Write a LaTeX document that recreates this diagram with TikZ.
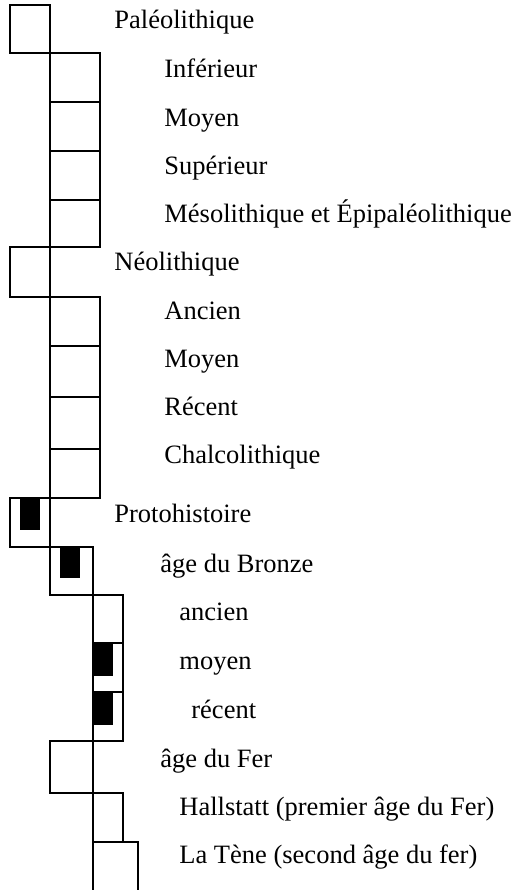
\documentclass[tikz,border=0pt]{standalone}
\usepackage{fontspec}
\setmainfont{Liberation Serif}
\begin{document}
\begin{tikzpicture}[x=1pt,y=-1pt,line width=2.8pt,
  per/.style={anchor=base west,inner sep=0pt,font=\fontsize{26.5}{30}\selectfont}]
\useasboundingbox (0,0) rectangle (516,890);
% Paleolithique
\draw (10,5) rectangle (50,53);
\foreach \a/\b in {53/102,102/151,151/200,200/247}
  \draw (50,\a) rectangle (100,\b);
% Neolithique
\draw (10,247) rectangle (50,297);
\foreach \a/\b in {297/346,346/397,397/449,449/498}
  \draw (50,\a) rectangle (100,\b);
% Protohistoire
\fill (20,498) rectangle (40,530);
\draw (10,498) rectangle (50,547);
\fill (60,547) rectangle (80,578);
\draw (50,547) rectangle (93,595);
\fill (93,643) rectangle (113,676);
\fill (93,692) rectangle (113,725);
\foreach \a/\b in {595/643,643/692,692/741}
  \draw (93,\a) rectangle (123,\b);
\draw (50,741) rectangle (93,793);
\draw (93,793) rectangle (123,842);
\coordinate (T1) at (93,890);
\coordinate (T2) at (138,890);
\draw (T1) |- (138,842) -- (T2);
% textes
\node[per] (paleo) at (113,29) {Paléolithique};
\node[per] (inf) at (163,78) {Inférieur};
\node[per] (moy) at (163,127) {Moyen};
\node[per] (sup) at (163,175) {Supérieur};
\node[per] (meso) at (163,223) {Mésolithique et Épipaléolithique};
\node[per] (neo) at (113,271) {Néolithique};
\node[per] (anc) at (163,319) {Ancien};
\node[per] (nmoy) at (163,367) {Moyen};
\node[per] (rec) at (163,415) {Récent};
\node[per] (chalco) at (163,463) {Chalcolithique};
\node[per] (proto) at (113,522) {Protohistoire};
\node[per] (bronze) at (159,572) {âge du Bronze};
\node[per] (banc) at (178,620) {ancien};
\node[per] (bmoy) at (178,669) {moyen};
\node[per] (brec) at (190,718) {récent};
\node[per] (fer) at (159,767) {âge du Fer};
\node[per] (hall) at (178,815) {Hallstatt (premier âge du Fer)};
\node[per] (tene) at (178,863) {La Tène (second âge du fer)};
\end{tikzpicture}
\end{document}
